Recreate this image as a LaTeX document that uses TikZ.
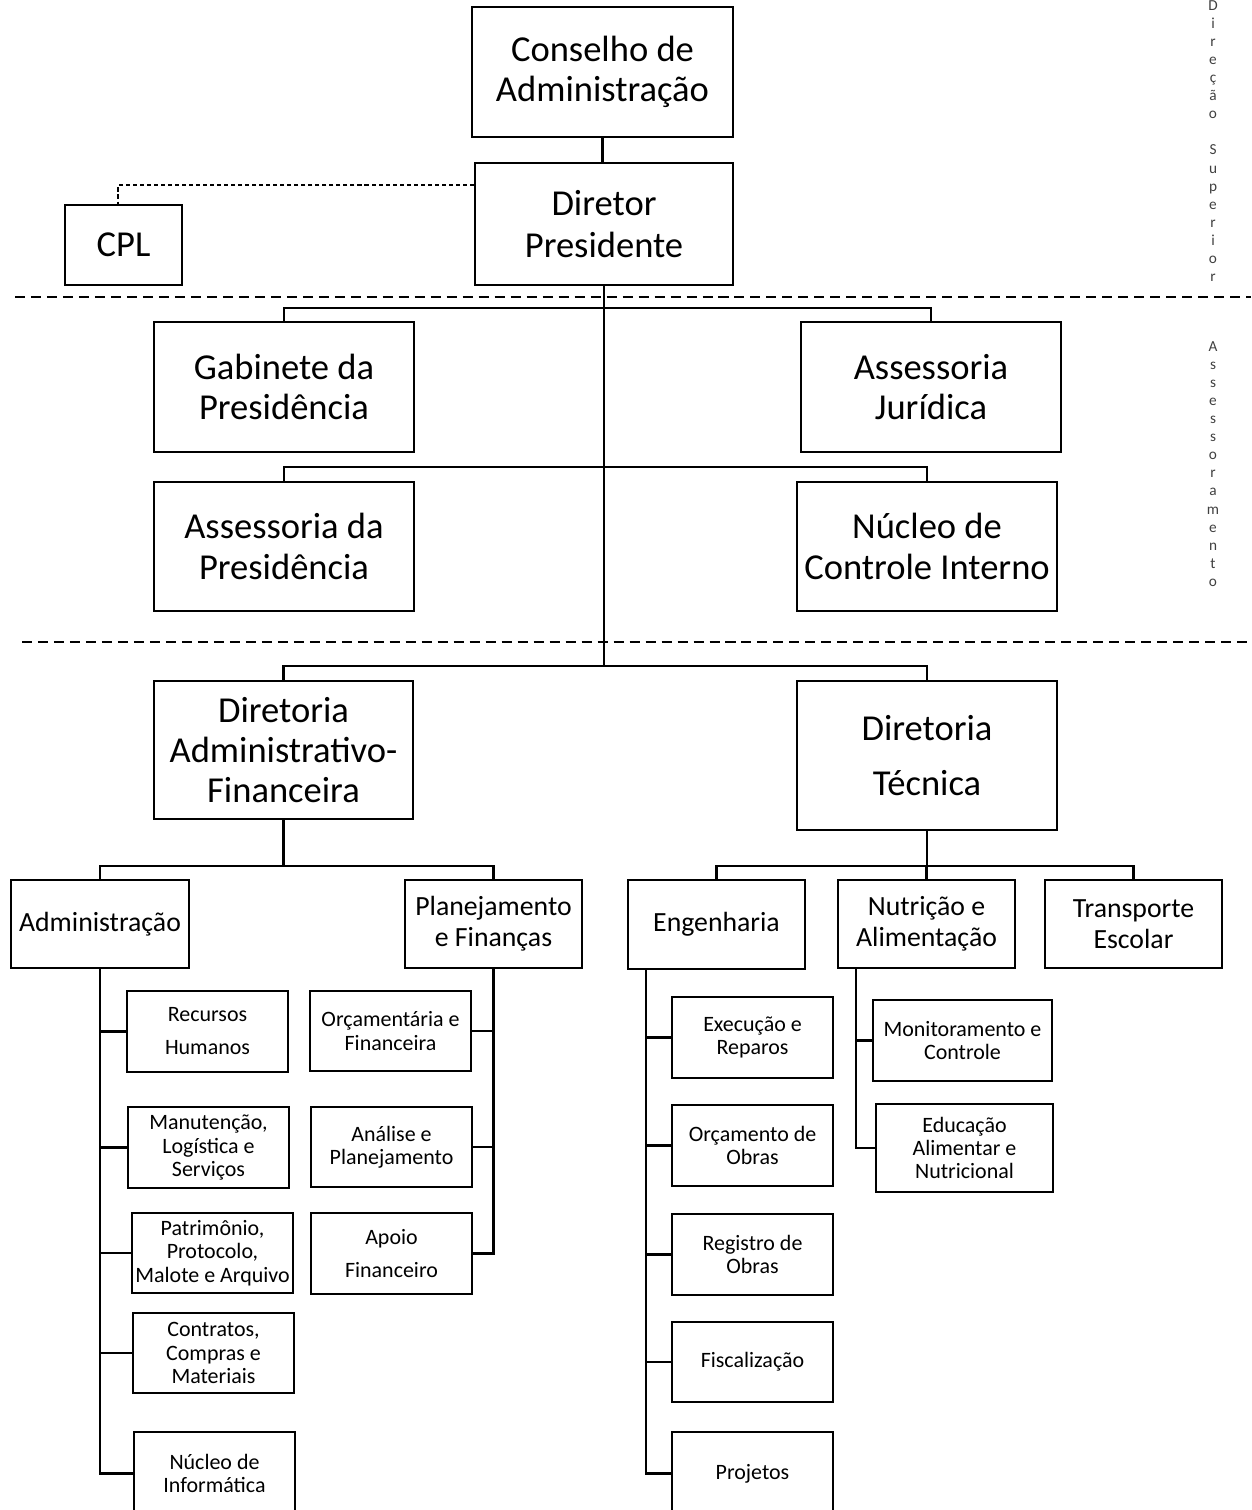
\documentclass[tikz,border=0pt]{standalone}
\usepackage{fontspec}
\setmainfont{Carlito}
\usepackage{tikz}
\usetikzlibrary{positioning}
\tikzset{
x=0.02cm, y=-0.02cm, % one unit is one pixel of the chart, y grows downwards
every node/.style={align=center, inner sep=0pt},
dims/.style 2 args={minimum width=#1*0.02cm, minimum height=#2*0.02cm}, % box size in pixels
box/.style={draw, line width=1.2pt, fill=white}, % sets the properties of each unit
big/.style={box, font=\fontsize{20.8}{23}\selectfont},
mid/.style={box, font=\fontsize{15.8}{17.6}\selectfont},
small/.style={box, font=\fontsize{12.5}{13.3}\selectfont},
link/.style={line width=1.2pt},
cpllink/.style={line width=0.6pt, dash pattern=on 2.3pt off 1.7pt},
levelline/.style={line width=1.7pt, dash pattern=on 5.7pt off 3.4pt},
sidetext/.style={font=\fontsize{8.7}{10.3}\selectfont, text=black!75},
}

\begin{document}
\begin{tikzpicture}
  \useasboundingbox (0,0) rectangle (1251,1510);

  % direcao superior
  \node[big, dims={261}{130}] (cons) at (602.5,72) {Conselho de\\Administração};
  \node[big, dims={258}{122}] (dirp) at (604,224) {Diretor\\[1pt]Presidente};
  \node[big, dims={117}{80}] (cpl) at (123.5,245) {CPL};

  % assessoramento
  \node[big, dims={260}{130}] (gab) at (284,387) {Gabinete da\\Presidência};
  \node[big, dims={260}{130}] (jur) at (931,387) {Assessoria\\Jurídica};
  \node[big, dims={260}{129}] (asp) at (284,546.5) {Assessoria da\\Presidência};
  \node[big, dims={260}{129}] (nci) at (927,546.5) {Núcleo de\\Controle Interno};

  % diretorias
  \node[big, dims={259}{138}] (daf) at (283.5,750) {Diretoria\\Administrativo-\\Financeira};
  \node[big, dims={260}{149}] (dt) at (927,755.5) {Diretoria\\[8pt]Técnica};

  \node[mid, dims={178}{88}] (adm) at (100,924) {Administração};
  \node[mid, dims={177}{88}] (plf) at (493.5,924) {Planejamento\\e Finanças};
  \node[mid, dims={177}{89}] (eng) at (716.5,924.5) {Engenharia};
  \node[mid, dims={177}{88}] (nut) at (926.5,924) {Nutrição e\\Alimentação};
  \node[mid, dims={177}{88}] (tra) at (1133.5,924) {Transporte\\Escolar};

  % setores
  \node[small, dims={161}{81}] (rh) at (207.5,1031.5) {Recursos\\[5.5pt]Humanos};
  \node[small, dims={161}{81}] (man) at (208.5,1147.5) {Manutenção,\\Logística e\\Serviços};
  \node[small, dims={161}{80}] (pat) at (212.5,1253) {Patrimônio,\\Protocolo,\\Malote e Arquivo};
  \node[small, dims={161}{80}] (con) at (213.5,1353) {Contratos,\\Compras e\\Materiais};
  \node[small, dims={161}{83}] (inf) at (214.5,1473.5) {Núcleo de\\Informática};

  \node[small, dims={161}{80}] (orf) at (390.5,1031) {Orçamentária e\\Financeira};
  \node[small, dims={161}{80}] (anp) at (391.5,1147) {Análise e\\Planejamento};
  \node[small, dims={161}{81}] (apf) at (391.5,1253.5) {Apoio\\[5.5pt]Financeiro};

  \node[small, dims={161}{81}] (exe) at (752.5,1037.5) {Execução e\\Reparos};
  \node[small, dims={161}{81}] (orc) at (752.5,1145.5) {Orçamento de\\Obras};
  \node[small, dims={161}{81}] (reg) at (752.5,1254.5) {Registro de\\Obras};
  \node[small, dims={161}{80}] (fis) at (752.5,1362) {Fiscalização};
  \node[small, dims={161}{83}] (pro) at (752.5,1473.5) {Projetos};

  \node[small, dims={179}{81}] (mon) at (962.5,1040.5) {Monitoramento e\\Controle};
  \node[small, dims={177}{88}] (edu) at (964.5,1148) {Educação\\Alimentar e\\Nutricional};

  % side labels
  \node[sidetext] (lblsup) at (1213,141) {D\\i\\r\\e\\ç\\ã\\o\\~\\S\\u\\p\\e\\r\\i\\o\\r};
  \node[sidetext] (lblass) at (1213,464) {A\\s\\s\\e\\s\\s\\o\\r\\a\\m\\e\\n\\t\\o};

  % level separators
  \draw[levelline] (15,297) -- (1251,297);
  \draw[levelline] (22,642) -- (1251,642);

  % connectors
  \coordinate (cplbend) at (118,185);
  \coordinate (top1) at (604,308);
  \coordinate (top2) at (604,467);
  \coordinate (top3) at (604,666);
  \coordinate (dafbar) at (283.5,866);
  \coordinate (dtbar) at (927,866);
  \coordinate (engtrunk) at (646,969);
  \coordinate (nuttrunk) at (856,968);

  \draw[link] (cons.south) -- (cons.south |- dirp.north);
  \draw[cpllink] (dirp.west |- cplbend) -- (cplbend) -- (cplbend |- cpl.north);
  \draw[link] (dirp.south) -- (top3);
  \draw[link] (gab.north) |- (top1) -| (jur.north);
  \draw[link] (asp.north) |- (top2) -| (nci.north);
  \draw[link] (daf.north) |- (top3) -| (dt.north);

  \draw[link] (daf.south) -- (dafbar);
  \draw[link] (adm.north) |- (dafbar) -| (plf.north);
  \draw[link] (dt.south) -- (dtbar);
  \draw[link] (eng.north) |- (dtbar) -| (tra.north);
  \draw[link] (nut.north) -- (nut.north |- dtbar);

  \foreach \n in {rh,man,pat,con,inf}
    \draw[link] (adm.south) |- (\n.west);
  \foreach \n in {orf,anp,apf}
    \draw[link] (plf.south) |- (\n.east);
  \foreach \n in {exe,orc,reg,fis,pro}
    \draw[link] (engtrunk) |- (\n.west);
  \foreach \n in {mon,edu}
    \draw[link] (nuttrunk) |- (\n.west);
\end{tikzpicture}
\end{document}
